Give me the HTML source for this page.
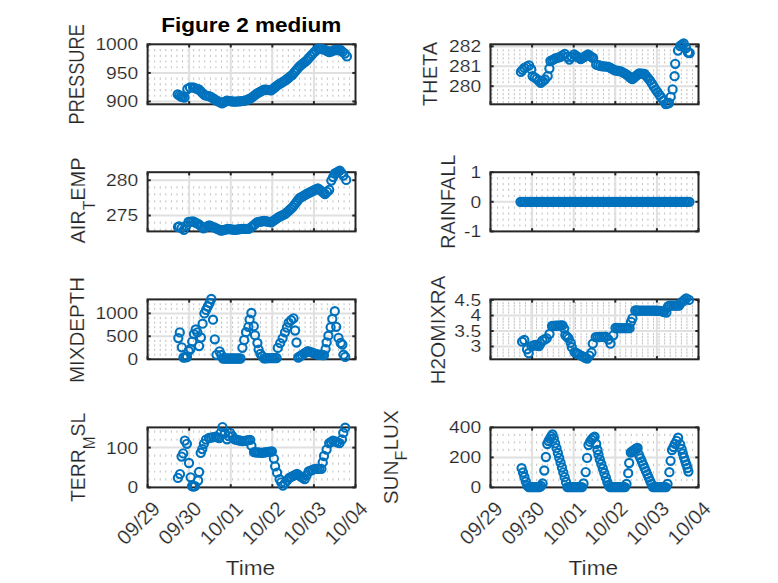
<!DOCTYPE html>
<html><head><meta charset="utf-8"><style>
html,body{margin:0;padding:0;background:#fff;width:778px;height:583px;overflow:hidden}
svg text{font-family:"Liberation Sans",sans-serif}
.tn text,text.tn{stroke:#fff;stroke-width:0.18px}
</style></head><body>
<svg width="778" height="583" viewBox="0 0 778 583" style="display:block">
<rect width="778" height="583" fill="#fff"/>
<rect x="147.6" y="44.3" width="207.90" height="60.00" fill="#fff"/>
<line x1="148.60" y1="95.74" x2="354.5" y2="95.74" stroke="#c2c2c2" stroke-width="2.2" stroke-dasharray="1 4.57"/>
<line x1="148.60" y1="90.04" x2="354.5" y2="90.04" stroke="#c2c2c2" stroke-width="2.2" stroke-dasharray="1 4.57"/>
<line x1="148.60" y1="84.34" x2="354.5" y2="84.34" stroke="#c2c2c2" stroke-width="2.2" stroke-dasharray="1 4.57"/>
<line x1="148.60" y1="78.63" x2="354.5" y2="78.63" stroke="#c2c2c2" stroke-width="2.2" stroke-dasharray="1 4.57"/>
<line x1="148.60" y1="67.23" x2="354.5" y2="67.23" stroke="#c2c2c2" stroke-width="2.2" stroke-dasharray="1 4.57"/>
<line x1="148.60" y1="61.52" x2="354.5" y2="61.52" stroke="#c2c2c2" stroke-width="2.2" stroke-dasharray="1 4.57"/>
<line x1="148.60" y1="55.82" x2="354.5" y2="55.82" stroke="#c2c2c2" stroke-width="2.2" stroke-dasharray="1 4.57"/>
<line x1="148.60" y1="50.12" x2="354.5" y2="50.12" stroke="#c2c2c2" stroke-width="2.2" stroke-dasharray="1 4.57"/>
<line x1="189.18" y1="44.3" x2="189.18" y2="104.3" stroke="#e0e0e0" stroke-width="2"/>
<line x1="230.76" y1="44.3" x2="230.76" y2="104.3" stroke="#e0e0e0" stroke-width="2"/>
<line x1="272.34" y1="44.3" x2="272.34" y2="104.3" stroke="#e0e0e0" stroke-width="2"/>
<line x1="313.92" y1="44.3" x2="313.92" y2="104.3" stroke="#e0e0e0" stroke-width="2"/>
<line x1="147.6" y1="101.45" x2="355.5" y2="101.45" stroke="#e0e0e0" stroke-width="2"/>
<line x1="147.6" y1="72.93" x2="355.5" y2="72.93" stroke="#e0e0e0" stroke-width="2"/>
<rect x="147.6" y="44.3" width="207.90" height="60.00" fill="none" stroke="#262626" stroke-width="2"/>
<line x1="147.60" y1="104.3" x2="147.60" y2="101.1" stroke="#262626" stroke-width="2"/>
<line x1="147.60" y1="44.3" x2="147.60" y2="47.5" stroke="#262626" stroke-width="2"/>
<line x1="189.18" y1="104.3" x2="189.18" y2="101.1" stroke="#262626" stroke-width="2"/>
<line x1="189.18" y1="44.3" x2="189.18" y2="47.5" stroke="#262626" stroke-width="2"/>
<line x1="230.76" y1="104.3" x2="230.76" y2="101.1" stroke="#262626" stroke-width="2"/>
<line x1="230.76" y1="44.3" x2="230.76" y2="47.5" stroke="#262626" stroke-width="2"/>
<line x1="272.34" y1="104.3" x2="272.34" y2="101.1" stroke="#262626" stroke-width="2"/>
<line x1="272.34" y1="44.3" x2="272.34" y2="47.5" stroke="#262626" stroke-width="2"/>
<line x1="313.92" y1="104.3" x2="313.92" y2="101.1" stroke="#262626" stroke-width="2"/>
<line x1="313.92" y1="44.3" x2="313.92" y2="47.5" stroke="#262626" stroke-width="2"/>
<line x1="355.50" y1="104.3" x2="355.50" y2="101.1" stroke="#262626" stroke-width="2"/>
<line x1="355.50" y1="44.3" x2="355.50" y2="47.5" stroke="#262626" stroke-width="2"/>
<line x1="147.6" y1="101.45" x2="150.79999999999998" y2="101.45" stroke="#262626" stroke-width="2"/>
<line x1="355.5" y1="101.45" x2="352.3" y2="101.45" stroke="#262626" stroke-width="2"/>
<line x1="147.6" y1="72.93" x2="150.79999999999998" y2="72.93" stroke="#262626" stroke-width="2"/>
<line x1="355.5" y1="72.93" x2="352.3" y2="72.93" stroke="#262626" stroke-width="2"/>
<line x1="147.6" y1="44.41" x2="150.79999999999998" y2="44.41" stroke="#262626" stroke-width="2"/>
<line x1="355.5" y1="44.41" x2="352.3" y2="44.41" stroke="#262626" stroke-width="2"/>
<g fill="none" stroke="#0072BD" stroke-width="2.1"><circle cx="177.70" cy="94.30" r="4.1"/><circle cx="179.35" cy="95.40" r="4.1"/><circle cx="181.00" cy="96.50" r="4.1"/><circle cx="182.75" cy="97.00" r="4.1"/><circle cx="184.50" cy="97.50" r="4.1"/><circle cx="187.40" cy="89.00" r="4.1"/><circle cx="190.00" cy="87.50" r="4.1"/><circle cx="193.10" cy="87.40" r="4.1"/><circle cx="195.03" cy="88.10" r="4.1"/><circle cx="196.97" cy="88.80" r="4.1"/><circle cx="198.90" cy="89.50" r="4.1"/><circle cx="200.83" cy="91.40" r="4.1"/><circle cx="202.77" cy="93.30" r="4.1"/><circle cx="204.70" cy="95.20" r="4.1"/><circle cx="206.63" cy="95.67" r="4.1"/><circle cx="208.57" cy="96.13" r="4.1"/><circle cx="210.50" cy="96.60" r="4.1"/><circle cx="212.43" cy="97.90" r="4.1"/><circle cx="214.37" cy="99.20" r="4.1"/><circle cx="216.30" cy="100.50" r="4.1"/><circle cx="218.23" cy="101.43" r="4.1"/><circle cx="220.17" cy="102.37" r="4.1"/><circle cx="222.10" cy="103.30" r="4.1"/><circle cx="224.40" cy="102.00" r="4.1"/><circle cx="226.70" cy="100.70" r="4.1"/><circle cx="228.42" cy="100.92" r="4.1"/><circle cx="230.15" cy="101.15" r="4.1"/><circle cx="231.88" cy="101.38" r="4.1"/><circle cx="233.60" cy="101.60" r="4.1"/><circle cx="235.53" cy="101.53" r="4.1"/><circle cx="237.47" cy="101.47" r="4.1"/><circle cx="239.40" cy="101.40" r="4.1"/><circle cx="241.33" cy="101.17" r="4.1"/><circle cx="243.27" cy="100.93" r="4.1"/><circle cx="245.20" cy="100.70" r="4.1"/><circle cx="247.13" cy="99.83" r="4.1"/><circle cx="249.07" cy="98.97" r="4.1"/><circle cx="251.00" cy="98.10" r="4.1"/><circle cx="252.93" cy="96.63" r="4.1"/><circle cx="254.87" cy="95.17" r="4.1"/><circle cx="256.80" cy="93.70" r="4.1"/><circle cx="258.62" cy="92.67" r="4.1"/><circle cx="260.45" cy="91.65" r="4.1"/><circle cx="262.28" cy="90.62" r="4.1"/><circle cx="264.10" cy="89.60" r="4.1"/><circle cx="265.88" cy="89.77" r="4.1"/><circle cx="267.65" cy="89.95" r="4.1"/><circle cx="269.43" cy="90.12" r="4.1"/><circle cx="271.20" cy="90.30" r="4.1"/><circle cx="272.98" cy="88.90" r="4.1"/><circle cx="274.75" cy="87.50" r="4.1"/><circle cx="276.52" cy="86.10" r="4.1"/><circle cx="278.30" cy="84.70" r="4.1"/><circle cx="280.07" cy="83.62" r="4.1"/><circle cx="281.85" cy="82.55" r="4.1"/><circle cx="283.62" cy="81.48" r="4.1"/><circle cx="285.40" cy="80.40" r="4.1"/><circle cx="287.15" cy="79.00" r="4.1"/><circle cx="288.90" cy="77.60" r="4.1"/><circle cx="290.65" cy="76.20" r="4.1"/><circle cx="292.40" cy="74.80" r="4.1"/><circle cx="294.17" cy="72.67" r="4.1"/><circle cx="295.95" cy="70.55" r="4.1"/><circle cx="297.73" cy="68.42" r="4.1"/><circle cx="299.50" cy="66.30" r="4.1"/><circle cx="301.27" cy="64.88" r="4.1"/><circle cx="303.05" cy="63.45" r="4.1"/><circle cx="304.83" cy="62.02" r="4.1"/><circle cx="306.60" cy="60.60" r="4.1"/><circle cx="308.47" cy="58.50" r="4.1"/><circle cx="310.33" cy="56.40" r="4.1"/><circle cx="312.20" cy="54.30" r="4.1"/><circle cx="314.10" cy="52.40" r="4.1"/><circle cx="316.00" cy="50.50" r="4.1"/><circle cx="317.90" cy="48.60" r="4.1"/><circle cx="319.77" cy="48.83" r="4.1"/><circle cx="321.63" cy="49.07" r="4.1"/><circle cx="323.50" cy="49.30" r="4.1"/><circle cx="325.40" cy="50.23" r="4.1"/><circle cx="327.30" cy="51.17" r="4.1"/><circle cx="329.20" cy="52.10" r="4.1"/><circle cx="331.10" cy="51.40" r="4.1"/><circle cx="333.00" cy="50.70" r="4.1"/><circle cx="334.90" cy="50.00" r="4.1"/><circle cx="336.77" cy="50.00" r="4.1"/><circle cx="338.63" cy="50.00" r="4.1"/><circle cx="340.50" cy="50.00" r="4.1"/><circle cx="342.65" cy="51.80" r="4.1"/><circle cx="344.80" cy="53.60" r="4.1"/><circle cx="346.90" cy="56.40" r="4.1"/></g>
<text transform="translate(138.20,101.45) scale(1.1,0.96)" y="6.2" text-anchor="end" font-size="17.5" fill="#262626" class="tn">900</text>
<text transform="translate(138.20,72.93) scale(1.1,0.96)" y="6.2" text-anchor="end" font-size="17.5" fill="#262626" class="tn">950</text>
<text transform="translate(138.20,44.41) scale(1.1,0.96)" y="6.2" text-anchor="end" font-size="17.5" fill="#262626" class="tn">1000</text>
<g class="tn" fill="#262626" transform="translate(76.70,73.85) scale(1.0429,0.8856) translate(-293.00,-299.50)"><text transform="translate(300,300) rotate(-90)" text-anchor="middle" font-size="20.6">PRESSURE</text></g>
<rect x="490.5" y="44.3" width="208.00" height="60.00" fill="#fff"/>
<line x1="491.50" y1="102.11" x2="697.5" y2="102.11" stroke="#c2c2c2" stroke-width="2.2" stroke-dasharray="1 4.57"/>
<line x1="491.50" y1="98.13" x2="697.5" y2="98.13" stroke="#c2c2c2" stroke-width="2.2" stroke-dasharray="1 4.57"/>
<line x1="491.50" y1="94.15" x2="697.5" y2="94.15" stroke="#c2c2c2" stroke-width="2.2" stroke-dasharray="1 4.57"/>
<line x1="491.50" y1="90.17" x2="697.5" y2="90.17" stroke="#c2c2c2" stroke-width="2.2" stroke-dasharray="1 4.57"/>
<line x1="491.50" y1="82.21" x2="697.5" y2="82.21" stroke="#c2c2c2" stroke-width="2.2" stroke-dasharray="1 4.57"/>
<line x1="491.50" y1="78.23" x2="697.5" y2="78.23" stroke="#c2c2c2" stroke-width="2.2" stroke-dasharray="1 4.57"/>
<line x1="491.50" y1="74.25" x2="697.5" y2="74.25" stroke="#c2c2c2" stroke-width="2.2" stroke-dasharray="1 4.57"/>
<line x1="491.50" y1="70.27" x2="697.5" y2="70.27" stroke="#c2c2c2" stroke-width="2.2" stroke-dasharray="1 4.57"/>
<line x1="491.50" y1="62.31" x2="697.5" y2="62.31" stroke="#c2c2c2" stroke-width="2.2" stroke-dasharray="1 4.57"/>
<line x1="491.50" y1="58.33" x2="697.5" y2="58.33" stroke="#c2c2c2" stroke-width="2.2" stroke-dasharray="1 4.57"/>
<line x1="491.50" y1="54.35" x2="697.5" y2="54.35" stroke="#c2c2c2" stroke-width="2.2" stroke-dasharray="1 4.57"/>
<line x1="491.50" y1="50.37" x2="697.5" y2="50.37" stroke="#c2c2c2" stroke-width="2.2" stroke-dasharray="1 4.57"/>
<line x1="532.10" y1="44.3" x2="532.10" y2="104.3" stroke="#e0e0e0" stroke-width="2"/>
<line x1="573.70" y1="44.3" x2="573.70" y2="104.3" stroke="#e0e0e0" stroke-width="2"/>
<line x1="615.30" y1="44.3" x2="615.30" y2="104.3" stroke="#e0e0e0" stroke-width="2"/>
<line x1="656.90" y1="44.3" x2="656.90" y2="104.3" stroke="#e0e0e0" stroke-width="2"/>
<line x1="490.5" y1="86.19" x2="698.5" y2="86.19" stroke="#e0e0e0" stroke-width="2"/>
<line x1="490.5" y1="66.29" x2="698.5" y2="66.29" stroke="#e0e0e0" stroke-width="2"/>
<line x1="490.5" y1="46.39" x2="698.5" y2="46.39" stroke="#e0e0e0" stroke-width="2"/>
<rect x="490.5" y="44.3" width="208.00" height="60.00" fill="none" stroke="#262626" stroke-width="2"/>
<line x1="490.50" y1="104.3" x2="490.50" y2="101.1" stroke="#262626" stroke-width="2"/>
<line x1="490.50" y1="44.3" x2="490.50" y2="47.5" stroke="#262626" stroke-width="2"/>
<line x1="532.10" y1="104.3" x2="532.10" y2="101.1" stroke="#262626" stroke-width="2"/>
<line x1="532.10" y1="44.3" x2="532.10" y2="47.5" stroke="#262626" stroke-width="2"/>
<line x1="573.70" y1="104.3" x2="573.70" y2="101.1" stroke="#262626" stroke-width="2"/>
<line x1="573.70" y1="44.3" x2="573.70" y2="47.5" stroke="#262626" stroke-width="2"/>
<line x1="615.30" y1="104.3" x2="615.30" y2="101.1" stroke="#262626" stroke-width="2"/>
<line x1="615.30" y1="44.3" x2="615.30" y2="47.5" stroke="#262626" stroke-width="2"/>
<line x1="656.90" y1="104.3" x2="656.90" y2="101.1" stroke="#262626" stroke-width="2"/>
<line x1="656.90" y1="44.3" x2="656.90" y2="47.5" stroke="#262626" stroke-width="2"/>
<line x1="698.50" y1="104.3" x2="698.50" y2="101.1" stroke="#262626" stroke-width="2"/>
<line x1="698.50" y1="44.3" x2="698.50" y2="47.5" stroke="#262626" stroke-width="2"/>
<line x1="490.5" y1="86.19" x2="493.7" y2="86.19" stroke="#262626" stroke-width="2"/>
<line x1="698.5" y1="86.19" x2="695.3" y2="86.19" stroke="#262626" stroke-width="2"/>
<line x1="490.5" y1="66.29" x2="493.7" y2="66.29" stroke="#262626" stroke-width="2"/>
<line x1="698.5" y1="66.29" x2="695.3" y2="66.29" stroke="#262626" stroke-width="2"/>
<line x1="490.5" y1="46.39" x2="493.7" y2="46.39" stroke="#262626" stroke-width="2"/>
<line x1="698.5" y1="46.39" x2="695.3" y2="46.39" stroke="#262626" stroke-width="2"/>
<g fill="none" stroke="#0072BD" stroke-width="2.1"><circle cx="520.90" cy="71.90" r="4.1"/><circle cx="522.60" cy="69.85" r="4.1"/><circle cx="524.30" cy="67.80" r="4.1"/><circle cx="526.70" cy="66.60" r="4.1"/><circle cx="529.10" cy="65.40" r="4.1"/><circle cx="531.20" cy="69.20" r="4.1"/><circle cx="532.60" cy="76.10" r="4.1"/><circle cx="534.65" cy="77.45" r="4.1"/><circle cx="536.70" cy="78.80" r="4.1"/><circle cx="538.75" cy="80.85" r="4.1"/><circle cx="540.80" cy="82.90" r="4.1"/><circle cx="542.85" cy="81.20" r="4.1"/><circle cx="544.90" cy="79.50" r="4.1"/><circle cx="547.70" cy="76.10" r="4.1"/><circle cx="549.40" cy="68.50" r="4.1"/><circle cx="550.40" cy="61.00" r="4.1"/><circle cx="552.23" cy="60.07" r="4.1"/><circle cx="554.07" cy="59.13" r="4.1"/><circle cx="555.90" cy="58.20" r="4.1"/><circle cx="558.00" cy="57.60" r="4.1"/><circle cx="560.10" cy="57.00" r="4.1"/><circle cx="562.45" cy="55.45" r="4.1"/><circle cx="564.80" cy="53.90" r="4.1"/><circle cx="567.10" cy="56.75" r="4.1"/><circle cx="569.40" cy="59.60" r="4.1"/><circle cx="571.75" cy="57.00" r="4.1"/><circle cx="574.10" cy="54.40" r="4.1"/><circle cx="575.75" cy="55.58" r="4.1"/><circle cx="577.40" cy="56.75" r="4.1"/><circle cx="579.05" cy="57.92" r="4.1"/><circle cx="580.70" cy="59.10" r="4.1"/><circle cx="582.53" cy="57.92" r="4.1"/><circle cx="584.35" cy="56.75" r="4.1"/><circle cx="586.17" cy="55.58" r="4.1"/><circle cx="588.00" cy="54.40" r="4.1"/><circle cx="589.70" cy="55.60" r="4.1"/><circle cx="591.40" cy="56.80" r="4.1"/><circle cx="593.10" cy="58.00" r="4.1"/><circle cx="596.20" cy="64.70" r="4.1"/><circle cx="598.27" cy="65.23" r="4.1"/><circle cx="600.33" cy="65.77" r="4.1"/><circle cx="602.40" cy="66.30" r="4.1"/><circle cx="604.47" cy="66.47" r="4.1"/><circle cx="606.53" cy="66.63" r="4.1"/><circle cx="608.60" cy="66.80" r="4.1"/><circle cx="610.63" cy="68.00" r="4.1"/><circle cx="612.67" cy="69.20" r="4.1"/><circle cx="614.70" cy="70.40" r="4.1"/><circle cx="616.77" cy="70.70" r="4.1"/><circle cx="618.83" cy="71.00" r="4.1"/><circle cx="620.90" cy="71.30" r="4.1"/><circle cx="623.25" cy="72.55" r="4.1"/><circle cx="625.60" cy="73.80" r="4.1"/><circle cx="627.27" cy="75.15" r="4.1"/><circle cx="628.95" cy="76.50" r="4.1"/><circle cx="630.62" cy="77.85" r="4.1"/><circle cx="632.30" cy="79.20" r="4.1"/><circle cx="633.97" cy="77.72" r="4.1"/><circle cx="635.65" cy="76.25" r="4.1"/><circle cx="637.33" cy="74.78" r="4.1"/><circle cx="639.00" cy="73.30" r="4.1"/><circle cx="640.83" cy="73.53" r="4.1"/><circle cx="642.67" cy="73.77" r="4.1"/><circle cx="644.50" cy="74.00" r="4.1"/><circle cx="646.37" cy="76.23" r="4.1"/><circle cx="648.23" cy="78.47" r="4.1"/><circle cx="650.10" cy="80.70" r="4.1"/><circle cx="651.97" cy="83.67" r="4.1"/><circle cx="653.83" cy="86.63" r="4.1"/><circle cx="655.70" cy="89.60" r="4.1"/><circle cx="657.53" cy="92.20" r="4.1"/><circle cx="659.37" cy="94.80" r="4.1"/><circle cx="661.20" cy="97.40" r="4.1"/><circle cx="663.45" cy="100.75" r="4.1"/><circle cx="665.70" cy="104.10" r="4.1"/><circle cx="667.35" cy="103.55" r="4.1"/><circle cx="669.00" cy="103.00" r="4.1"/><circle cx="670.70" cy="96.80" r="4.1"/><circle cx="672.60" cy="89.40" r="4.1"/><circle cx="674.60" cy="76.20" r="4.1"/><circle cx="675.20" cy="63.80" r="4.1"/><circle cx="678.00" cy="50.60" r="4.1"/><circle cx="680.20" cy="46.00" r="4.1"/><circle cx="681.95" cy="44.75" r="4.1"/><circle cx="683.70" cy="43.50" r="4.1"/><circle cx="686.00" cy="48.00" r="4.1"/><circle cx="688.00" cy="52.50" r="4.1"/><circle cx="689.70" cy="53.00" r="4.1"/></g>
<text transform="translate(481.10,86.19) scale(1.1,0.96)" y="6.2" text-anchor="end" font-size="17.5" fill="#262626" class="tn">280</text>
<text transform="translate(481.10,66.29) scale(1.1,0.96)" y="6.2" text-anchor="end" font-size="17.5" fill="#262626" class="tn">281</text>
<text transform="translate(481.10,46.39) scale(1.1,0.96)" y="6.2" text-anchor="end" font-size="17.5" fill="#262626" class="tn">282</text>
<g class="tn" fill="#262626" transform="translate(430.55,73.95) scale(0.9786,0.9773) translate(-293.00,-300.00)"><text transform="translate(300,300) rotate(-90)" text-anchor="middle" font-size="20.6">THETA</text></g>
<rect x="147.6" y="172.2" width="207.90" height="59.20" fill="#fff"/>
<line x1="148.60" y1="229.64" x2="354.5" y2="229.64" stroke="#c2c2c2" stroke-width="2.2" stroke-dasharray="1 4.57"/>
<line x1="148.60" y1="222.58" x2="354.5" y2="222.58" stroke="#c2c2c2" stroke-width="2.2" stroke-dasharray="1 4.57"/>
<line x1="148.60" y1="208.47" x2="354.5" y2="208.47" stroke="#c2c2c2" stroke-width="2.2" stroke-dasharray="1 4.57"/>
<line x1="148.60" y1="201.41" x2="354.5" y2="201.41" stroke="#c2c2c2" stroke-width="2.2" stroke-dasharray="1 4.57"/>
<line x1="148.60" y1="194.36" x2="354.5" y2="194.36" stroke="#c2c2c2" stroke-width="2.2" stroke-dasharray="1 4.57"/>
<line x1="148.60" y1="187.30" x2="354.5" y2="187.30" stroke="#c2c2c2" stroke-width="2.2" stroke-dasharray="1 4.57"/>
<line x1="189.18" y1="172.2" x2="189.18" y2="231.4" stroke="#e0e0e0" stroke-width="2"/>
<line x1="230.76" y1="172.2" x2="230.76" y2="231.4" stroke="#e0e0e0" stroke-width="2"/>
<line x1="272.34" y1="172.2" x2="272.34" y2="231.4" stroke="#e0e0e0" stroke-width="2"/>
<line x1="313.92" y1="172.2" x2="313.92" y2="231.4" stroke="#e0e0e0" stroke-width="2"/>
<line x1="147.6" y1="215.52" x2="355.5" y2="215.52" stroke="#e0e0e0" stroke-width="2"/>
<line x1="147.6" y1="180.24" x2="355.5" y2="180.24" stroke="#e0e0e0" stroke-width="2"/>
<rect x="147.6" y="172.2" width="207.90" height="59.20" fill="none" stroke="#262626" stroke-width="2"/>
<line x1="147.60" y1="231.4" x2="147.60" y2="228.20000000000002" stroke="#262626" stroke-width="2"/>
<line x1="147.60" y1="172.2" x2="147.60" y2="175.39999999999998" stroke="#262626" stroke-width="2"/>
<line x1="189.18" y1="231.4" x2="189.18" y2="228.20000000000002" stroke="#262626" stroke-width="2"/>
<line x1="189.18" y1="172.2" x2="189.18" y2="175.39999999999998" stroke="#262626" stroke-width="2"/>
<line x1="230.76" y1="231.4" x2="230.76" y2="228.20000000000002" stroke="#262626" stroke-width="2"/>
<line x1="230.76" y1="172.2" x2="230.76" y2="175.39999999999998" stroke="#262626" stroke-width="2"/>
<line x1="272.34" y1="231.4" x2="272.34" y2="228.20000000000002" stroke="#262626" stroke-width="2"/>
<line x1="272.34" y1="172.2" x2="272.34" y2="175.39999999999998" stroke="#262626" stroke-width="2"/>
<line x1="313.92" y1="231.4" x2="313.92" y2="228.20000000000002" stroke="#262626" stroke-width="2"/>
<line x1="313.92" y1="172.2" x2="313.92" y2="175.39999999999998" stroke="#262626" stroke-width="2"/>
<line x1="355.50" y1="231.4" x2="355.50" y2="228.20000000000002" stroke="#262626" stroke-width="2"/>
<line x1="355.50" y1="172.2" x2="355.50" y2="175.39999999999998" stroke="#262626" stroke-width="2"/>
<line x1="147.6" y1="215.52" x2="150.79999999999998" y2="215.52" stroke="#262626" stroke-width="2"/>
<line x1="355.5" y1="215.52" x2="352.3" y2="215.52" stroke="#262626" stroke-width="2"/>
<line x1="147.6" y1="180.24" x2="150.79999999999998" y2="180.24" stroke="#262626" stroke-width="2"/>
<line x1="355.5" y1="180.24" x2="352.3" y2="180.24" stroke="#262626" stroke-width="2"/>
<g fill="none" stroke="#0072BD" stroke-width="2.1"><circle cx="178.00" cy="227.00" r="4.1"/><circle cx="179.30" cy="226.40" r="4.1"/><circle cx="181.60" cy="228.15" r="4.1"/><circle cx="183.90" cy="229.90" r="4.1"/><circle cx="186.20" cy="225.95" r="4.1"/><circle cx="188.50" cy="222.00" r="4.1"/><circle cx="190.80" cy="221.75" r="4.1"/><circle cx="193.10" cy="221.50" r="4.1"/><circle cx="195.03" cy="222.47" r="4.1"/><circle cx="196.97" cy="223.43" r="4.1"/><circle cx="198.90" cy="224.40" r="4.1"/><circle cx="201.20" cy="226.40" r="4.1"/><circle cx="203.50" cy="228.40" r="4.1"/><circle cx="205.43" cy="227.43" r="4.1"/><circle cx="207.37" cy="226.47" r="4.1"/><circle cx="209.30" cy="225.50" r="4.1"/><circle cx="211.23" cy="226.27" r="4.1"/><circle cx="213.17" cy="227.03" r="4.1"/><circle cx="215.10" cy="227.80" r="4.1"/><circle cx="217.03" cy="228.77" r="4.1"/><circle cx="218.97" cy="229.73" r="4.1"/><circle cx="220.90" cy="230.70" r="4.1"/><circle cx="222.62" cy="230.27" r="4.1"/><circle cx="224.35" cy="229.85" r="4.1"/><circle cx="226.08" cy="229.43" r="4.1"/><circle cx="227.80" cy="229.00" r="4.1"/><circle cx="229.55" cy="229.22" r="4.1"/><circle cx="231.30" cy="229.45" r="4.1"/><circle cx="233.05" cy="229.68" r="4.1"/><circle cx="234.80" cy="229.90" r="4.1"/><circle cx="236.53" cy="229.62" r="4.1"/><circle cx="238.25" cy="229.35" r="4.1"/><circle cx="239.97" cy="229.08" r="4.1"/><circle cx="241.70" cy="228.80" r="4.1"/><circle cx="243.45" cy="228.80" r="4.1"/><circle cx="245.20" cy="228.80" r="4.1"/><circle cx="246.95" cy="228.80" r="4.1"/><circle cx="248.70" cy="228.80" r="4.1"/><circle cx="251.40" cy="227.20" r="4.1"/><circle cx="253.30" cy="225.57" r="4.1"/><circle cx="255.20" cy="223.93" r="4.1"/><circle cx="257.10" cy="222.30" r="4.1"/><circle cx="258.85" cy="221.95" r="4.1"/><circle cx="260.60" cy="221.60" r="4.1"/><circle cx="262.35" cy="221.25" r="4.1"/><circle cx="264.10" cy="220.90" r="4.1"/><circle cx="265.88" cy="221.25" r="4.1"/><circle cx="267.65" cy="221.60" r="4.1"/><circle cx="269.43" cy="221.95" r="4.1"/><circle cx="271.20" cy="222.30" r="4.1"/><circle cx="272.98" cy="221.05" r="4.1"/><circle cx="274.75" cy="219.80" r="4.1"/><circle cx="276.52" cy="218.55" r="4.1"/><circle cx="278.30" cy="217.30" r="4.1"/><circle cx="280.07" cy="216.43" r="4.1"/><circle cx="281.85" cy="215.55" r="4.1"/><circle cx="283.62" cy="214.68" r="4.1"/><circle cx="285.40" cy="213.80" r="4.1"/><circle cx="287.15" cy="212.20" r="4.1"/><circle cx="288.90" cy="210.60" r="4.1"/><circle cx="290.65" cy="209.00" r="4.1"/><circle cx="292.40" cy="207.40" r="4.1"/><circle cx="294.17" cy="205.10" r="4.1"/><circle cx="295.95" cy="202.80" r="4.1"/><circle cx="297.73" cy="200.50" r="4.1"/><circle cx="299.50" cy="198.20" r="4.1"/><circle cx="301.27" cy="197.15" r="4.1"/><circle cx="303.05" cy="196.10" r="4.1"/><circle cx="304.83" cy="195.05" r="4.1"/><circle cx="306.60" cy="194.00" r="4.1"/><circle cx="308.35" cy="193.12" r="4.1"/><circle cx="310.10" cy="192.25" r="4.1"/><circle cx="311.85" cy="191.38" r="4.1"/><circle cx="313.60" cy="190.50" r="4.1"/><circle cx="315.75" cy="189.40" r="4.1"/><circle cx="317.90" cy="188.30" r="4.1"/><circle cx="319.67" cy="189.73" r="4.1"/><circle cx="321.45" cy="191.15" r="4.1"/><circle cx="323.23" cy="192.57" r="4.1"/><circle cx="325.00" cy="194.00" r="4.1"/><circle cx="327.10" cy="191.90" r="4.1"/><circle cx="329.20" cy="189.80" r="4.1"/><circle cx="331.30" cy="180.60" r="4.1"/><circle cx="333.10" cy="177.05" r="4.1"/><circle cx="334.90" cy="173.50" r="4.1"/><circle cx="336.53" cy="172.57" r="4.1"/><circle cx="338.17" cy="171.63" r="4.1"/><circle cx="339.80" cy="170.70" r="4.1"/><circle cx="341.60" cy="173.15" r="4.1"/><circle cx="343.40" cy="175.60" r="4.1"/><circle cx="346.20" cy="179.90" r="4.1"/></g>
<text transform="translate(138.20,215.52) scale(1.1,0.96)" y="6.2" text-anchor="end" font-size="17.5" fill="#262626" class="tn">275</text>
<text transform="translate(138.20,180.24) scale(1.1,0.96)" y="6.2" text-anchor="end" font-size="17.5" fill="#262626" class="tn">280</text>
<g class="tn" fill="#262626" transform="translate(83.40,200.55) scale(1.0000,0.9670) translate(-298.00,-300.00)"><text transform="translate(300,300) rotate(-90)" text-anchor="middle" font-size="20.6">AIR<tspan font-size="16.3" dy="9.9">T</tspan><tspan dy="-9.9">EMP</tspan></text></g>
<rect x="490.5" y="172.2" width="208.00" height="59.20" fill="#fff"/>
<line x1="491.50" y1="225.48" x2="697.5" y2="225.48" stroke="#c2c2c2" stroke-width="2.2" stroke-dasharray="1 4.57"/>
<line x1="491.50" y1="219.56" x2="697.5" y2="219.56" stroke="#c2c2c2" stroke-width="2.2" stroke-dasharray="1 4.57"/>
<line x1="491.50" y1="213.64" x2="697.5" y2="213.64" stroke="#c2c2c2" stroke-width="2.2" stroke-dasharray="1 4.57"/>
<line x1="491.50" y1="207.72" x2="697.5" y2="207.72" stroke="#c2c2c2" stroke-width="2.2" stroke-dasharray="1 4.57"/>
<line x1="491.50" y1="195.88" x2="697.5" y2="195.88" stroke="#c2c2c2" stroke-width="2.2" stroke-dasharray="1 4.57"/>
<line x1="491.50" y1="189.96" x2="697.5" y2="189.96" stroke="#c2c2c2" stroke-width="2.2" stroke-dasharray="1 4.57"/>
<line x1="491.50" y1="184.04" x2="697.5" y2="184.04" stroke="#c2c2c2" stroke-width="2.2" stroke-dasharray="1 4.57"/>
<line x1="491.50" y1="178.12" x2="697.5" y2="178.12" stroke="#c2c2c2" stroke-width="2.2" stroke-dasharray="1 4.57"/>
<line x1="532.10" y1="172.2" x2="532.10" y2="231.4" stroke="#e0e0e0" stroke-width="2"/>
<line x1="573.70" y1="172.2" x2="573.70" y2="231.4" stroke="#e0e0e0" stroke-width="2"/>
<line x1="615.30" y1="172.2" x2="615.30" y2="231.4" stroke="#e0e0e0" stroke-width="2"/>
<line x1="656.90" y1="172.2" x2="656.90" y2="231.4" stroke="#e0e0e0" stroke-width="2"/>
<line x1="490.5" y1="201.80" x2="698.5" y2="201.80" stroke="#e0e0e0" stroke-width="2"/>
<rect x="490.5" y="172.2" width="208.00" height="59.20" fill="none" stroke="#262626" stroke-width="2"/>
<line x1="490.50" y1="231.4" x2="490.50" y2="228.20000000000002" stroke="#262626" stroke-width="2"/>
<line x1="490.50" y1="172.2" x2="490.50" y2="175.39999999999998" stroke="#262626" stroke-width="2"/>
<line x1="532.10" y1="231.4" x2="532.10" y2="228.20000000000002" stroke="#262626" stroke-width="2"/>
<line x1="532.10" y1="172.2" x2="532.10" y2="175.39999999999998" stroke="#262626" stroke-width="2"/>
<line x1="573.70" y1="231.4" x2="573.70" y2="228.20000000000002" stroke="#262626" stroke-width="2"/>
<line x1="573.70" y1="172.2" x2="573.70" y2="175.39999999999998" stroke="#262626" stroke-width="2"/>
<line x1="615.30" y1="231.4" x2="615.30" y2="228.20000000000002" stroke="#262626" stroke-width="2"/>
<line x1="615.30" y1="172.2" x2="615.30" y2="175.39999999999998" stroke="#262626" stroke-width="2"/>
<line x1="656.90" y1="231.4" x2="656.90" y2="228.20000000000002" stroke="#262626" stroke-width="2"/>
<line x1="656.90" y1="172.2" x2="656.90" y2="175.39999999999998" stroke="#262626" stroke-width="2"/>
<line x1="698.50" y1="231.4" x2="698.50" y2="228.20000000000002" stroke="#262626" stroke-width="2"/>
<line x1="698.50" y1="172.2" x2="698.50" y2="175.39999999999998" stroke="#262626" stroke-width="2"/>
<line x1="490.5" y1="231.40" x2="493.7" y2="231.40" stroke="#262626" stroke-width="2"/>
<line x1="698.5" y1="231.40" x2="695.3" y2="231.40" stroke="#262626" stroke-width="2"/>
<line x1="490.5" y1="201.80" x2="493.7" y2="201.80" stroke="#262626" stroke-width="2"/>
<line x1="698.5" y1="201.80" x2="695.3" y2="201.80" stroke="#262626" stroke-width="2"/>
<line x1="490.5" y1="172.20" x2="493.7" y2="172.20" stroke="#262626" stroke-width="2"/>
<line x1="698.5" y1="172.20" x2="695.3" y2="172.20" stroke="#262626" stroke-width="2"/>
<g fill="none" stroke="#0072BD" stroke-width="2.1"><circle cx="520.50" cy="201.80" r="4.1"/><circle cx="522.24" cy="201.80" r="4.1"/><circle cx="523.98" cy="201.80" r="4.1"/><circle cx="525.73" cy="201.80" r="4.1"/><circle cx="527.47" cy="201.80" r="4.1"/><circle cx="529.21" cy="201.80" r="4.1"/><circle cx="530.95" cy="201.80" r="4.1"/><circle cx="532.70" cy="201.80" r="4.1"/><circle cx="534.44" cy="201.80" r="4.1"/><circle cx="536.18" cy="201.80" r="4.1"/><circle cx="537.92" cy="201.80" r="4.1"/><circle cx="539.66" cy="201.80" r="4.1"/><circle cx="541.41" cy="201.80" r="4.1"/><circle cx="543.15" cy="201.80" r="4.1"/><circle cx="544.89" cy="201.80" r="4.1"/><circle cx="546.63" cy="201.80" r="4.1"/><circle cx="548.38" cy="201.80" r="4.1"/><circle cx="550.12" cy="201.80" r="4.1"/><circle cx="551.86" cy="201.80" r="4.1"/><circle cx="553.60" cy="201.80" r="4.1"/><circle cx="555.35" cy="201.80" r="4.1"/><circle cx="557.09" cy="201.80" r="4.1"/><circle cx="558.83" cy="201.80" r="4.1"/><circle cx="560.57" cy="201.80" r="4.1"/><circle cx="562.31" cy="201.80" r="4.1"/><circle cx="564.06" cy="201.80" r="4.1"/><circle cx="565.80" cy="201.80" r="4.1"/><circle cx="567.54" cy="201.80" r="4.1"/><circle cx="569.28" cy="201.80" r="4.1"/><circle cx="571.03" cy="201.80" r="4.1"/><circle cx="572.77" cy="201.80" r="4.1"/><circle cx="574.51" cy="201.80" r="4.1"/><circle cx="576.25" cy="201.80" r="4.1"/><circle cx="577.99" cy="201.80" r="4.1"/><circle cx="579.74" cy="201.80" r="4.1"/><circle cx="581.48" cy="201.80" r="4.1"/><circle cx="583.22" cy="201.80" r="4.1"/><circle cx="584.96" cy="201.80" r="4.1"/><circle cx="586.71" cy="201.80" r="4.1"/><circle cx="588.45" cy="201.80" r="4.1"/><circle cx="590.19" cy="201.80" r="4.1"/><circle cx="591.93" cy="201.80" r="4.1"/><circle cx="593.68" cy="201.80" r="4.1"/><circle cx="595.42" cy="201.80" r="4.1"/><circle cx="597.16" cy="201.80" r="4.1"/><circle cx="598.90" cy="201.80" r="4.1"/><circle cx="600.64" cy="201.80" r="4.1"/><circle cx="602.39" cy="201.80" r="4.1"/><circle cx="604.13" cy="201.80" r="4.1"/><circle cx="605.87" cy="201.80" r="4.1"/><circle cx="607.61" cy="201.80" r="4.1"/><circle cx="609.36" cy="201.80" r="4.1"/><circle cx="611.10" cy="201.80" r="4.1"/><circle cx="612.84" cy="201.80" r="4.1"/><circle cx="614.58" cy="201.80" r="4.1"/><circle cx="616.32" cy="201.80" r="4.1"/><circle cx="618.07" cy="201.80" r="4.1"/><circle cx="619.81" cy="201.80" r="4.1"/><circle cx="621.55" cy="201.80" r="4.1"/><circle cx="623.29" cy="201.80" r="4.1"/><circle cx="625.04" cy="201.80" r="4.1"/><circle cx="626.78" cy="201.80" r="4.1"/><circle cx="628.52" cy="201.80" r="4.1"/><circle cx="630.26" cy="201.80" r="4.1"/><circle cx="632.01" cy="201.80" r="4.1"/><circle cx="633.75" cy="201.80" r="4.1"/><circle cx="635.49" cy="201.80" r="4.1"/><circle cx="637.23" cy="201.80" r="4.1"/><circle cx="638.97" cy="201.80" r="4.1"/><circle cx="640.72" cy="201.80" r="4.1"/><circle cx="642.46" cy="201.80" r="4.1"/><circle cx="644.20" cy="201.80" r="4.1"/><circle cx="645.94" cy="201.80" r="4.1"/><circle cx="647.69" cy="201.80" r="4.1"/><circle cx="649.43" cy="201.80" r="4.1"/><circle cx="651.17" cy="201.80" r="4.1"/><circle cx="652.91" cy="201.80" r="4.1"/><circle cx="654.65" cy="201.80" r="4.1"/><circle cx="656.40" cy="201.80" r="4.1"/><circle cx="658.14" cy="201.80" r="4.1"/><circle cx="659.88" cy="201.80" r="4.1"/><circle cx="661.62" cy="201.80" r="4.1"/><circle cx="663.37" cy="201.80" r="4.1"/><circle cx="665.11" cy="201.80" r="4.1"/><circle cx="666.85" cy="201.80" r="4.1"/><circle cx="668.59" cy="201.80" r="4.1"/><circle cx="670.34" cy="201.80" r="4.1"/><circle cx="672.08" cy="201.80" r="4.1"/><circle cx="673.82" cy="201.80" r="4.1"/><circle cx="675.56" cy="201.80" r="4.1"/><circle cx="677.30" cy="201.80" r="4.1"/><circle cx="679.05" cy="201.80" r="4.1"/><circle cx="680.79" cy="201.80" r="4.1"/><circle cx="682.53" cy="201.80" r="4.1"/><circle cx="684.27" cy="201.80" r="4.1"/><circle cx="686.02" cy="201.80" r="4.1"/><circle cx="687.76" cy="201.80" r="4.1"/><circle cx="689.50" cy="201.80" r="4.1"/></g>
<text transform="translate(481.10,231.40) scale(1.1,0.96)" y="6.2" text-anchor="end" font-size="17.5" fill="#262626" class="tn">-1</text>
<text transform="translate(481.10,201.80) scale(1.1,0.96)" y="6.2" text-anchor="end" font-size="17.5" fill="#262626" class="tn">0</text>
<text transform="translate(481.10,172.20) scale(1.1,0.96)" y="6.2" text-anchor="end" font-size="17.5" fill="#262626" class="tn">1</text>
<g class="tn" fill="#262626" transform="translate(447.65,201.30) scale(1.0214,0.9705) translate(-293.00,-299.50)"><text transform="translate(300,300) rotate(-90)" text-anchor="middle" font-size="20.6">RAINFALL</text></g>
<rect x="147.6" y="299.4" width="207.90" height="59.90" fill="#fff"/>
<line x1="148.60" y1="354.54" x2="354.5" y2="354.54" stroke="#c2c2c2" stroke-width="2.2" stroke-dasharray="1 4.57"/>
<line x1="148.60" y1="349.97" x2="354.5" y2="349.97" stroke="#c2c2c2" stroke-width="2.2" stroke-dasharray="1 4.57"/>
<line x1="148.60" y1="345.40" x2="354.5" y2="345.40" stroke="#c2c2c2" stroke-width="2.2" stroke-dasharray="1 4.57"/>
<line x1="148.60" y1="340.83" x2="354.5" y2="340.83" stroke="#c2c2c2" stroke-width="2.2" stroke-dasharray="1 4.57"/>
<line x1="148.60" y1="331.68" x2="354.5" y2="331.68" stroke="#c2c2c2" stroke-width="2.2" stroke-dasharray="1 4.57"/>
<line x1="148.60" y1="327.11" x2="354.5" y2="327.11" stroke="#c2c2c2" stroke-width="2.2" stroke-dasharray="1 4.57"/>
<line x1="148.60" y1="322.54" x2="354.5" y2="322.54" stroke="#c2c2c2" stroke-width="2.2" stroke-dasharray="1 4.57"/>
<line x1="148.60" y1="317.96" x2="354.5" y2="317.96" stroke="#c2c2c2" stroke-width="2.2" stroke-dasharray="1 4.57"/>
<line x1="148.60" y1="308.82" x2="354.5" y2="308.82" stroke="#c2c2c2" stroke-width="2.2" stroke-dasharray="1 4.57"/>
<line x1="148.60" y1="304.25" x2="354.5" y2="304.25" stroke="#c2c2c2" stroke-width="2.2" stroke-dasharray="1 4.57"/>
<line x1="189.18" y1="299.4" x2="189.18" y2="359.3" stroke="#e0e0e0" stroke-width="2"/>
<line x1="230.76" y1="299.4" x2="230.76" y2="359.3" stroke="#e0e0e0" stroke-width="2"/>
<line x1="272.34" y1="299.4" x2="272.34" y2="359.3" stroke="#e0e0e0" stroke-width="2"/>
<line x1="313.92" y1="299.4" x2="313.92" y2="359.3" stroke="#e0e0e0" stroke-width="2"/>
<line x1="147.6" y1="336.25" x2="355.5" y2="336.25" stroke="#e0e0e0" stroke-width="2"/>
<line x1="147.6" y1="313.39" x2="355.5" y2="313.39" stroke="#e0e0e0" stroke-width="2"/>
<rect x="147.6" y="299.4" width="207.90" height="59.90" fill="none" stroke="#262626" stroke-width="2"/>
<line x1="147.60" y1="359.3" x2="147.60" y2="356.1" stroke="#262626" stroke-width="2"/>
<line x1="147.60" y1="299.4" x2="147.60" y2="302.59999999999997" stroke="#262626" stroke-width="2"/>
<line x1="189.18" y1="359.3" x2="189.18" y2="356.1" stroke="#262626" stroke-width="2"/>
<line x1="189.18" y1="299.4" x2="189.18" y2="302.59999999999997" stroke="#262626" stroke-width="2"/>
<line x1="230.76" y1="359.3" x2="230.76" y2="356.1" stroke="#262626" stroke-width="2"/>
<line x1="230.76" y1="299.4" x2="230.76" y2="302.59999999999997" stroke="#262626" stroke-width="2"/>
<line x1="272.34" y1="359.3" x2="272.34" y2="356.1" stroke="#262626" stroke-width="2"/>
<line x1="272.34" y1="299.4" x2="272.34" y2="302.59999999999997" stroke="#262626" stroke-width="2"/>
<line x1="313.92" y1="359.3" x2="313.92" y2="356.1" stroke="#262626" stroke-width="2"/>
<line x1="313.92" y1="299.4" x2="313.92" y2="302.59999999999997" stroke="#262626" stroke-width="2"/>
<line x1="355.50" y1="359.3" x2="355.50" y2="356.1" stroke="#262626" stroke-width="2"/>
<line x1="355.50" y1="299.4" x2="355.50" y2="302.59999999999997" stroke="#262626" stroke-width="2"/>
<line x1="147.6" y1="359.12" x2="150.79999999999998" y2="359.12" stroke="#262626" stroke-width="2"/>
<line x1="355.5" y1="359.12" x2="352.3" y2="359.12" stroke="#262626" stroke-width="2"/>
<line x1="147.6" y1="336.25" x2="150.79999999999998" y2="336.25" stroke="#262626" stroke-width="2"/>
<line x1="355.5" y1="336.25" x2="352.3" y2="336.25" stroke="#262626" stroke-width="2"/>
<line x1="147.6" y1="313.39" x2="150.79999999999998" y2="313.39" stroke="#262626" stroke-width="2"/>
<line x1="355.5" y1="313.39" x2="352.3" y2="313.39" stroke="#262626" stroke-width="2"/>
<g fill="none" stroke="#0072BD" stroke-width="2.1"><circle cx="178.30" cy="338.10" r="4.1"/><circle cx="179.80" cy="332.40" r="4.1"/><circle cx="181.80" cy="347.30" r="4.1"/><circle cx="183.50" cy="357.50" r="4.1"/><circle cx="185.25" cy="357.25" r="4.1"/><circle cx="187.00" cy="357.00" r="4.1"/><circle cx="188.70" cy="351.00" r="4.1"/><circle cx="190.50" cy="349.00" r="4.1"/><circle cx="192.20" cy="341.60" r="4.1"/><circle cx="193.90" cy="334.10" r="4.1"/><circle cx="195.70" cy="329.50" r="4.1"/><circle cx="197.40" cy="332.40" r="4.1"/><circle cx="199.10" cy="346.10" r="4.1"/><circle cx="200.90" cy="337.50" r="4.1"/><circle cx="202.60" cy="323.70" r="4.1"/><circle cx="204.40" cy="313.40" r="4.1"/><circle cx="206.10" cy="309.90" r="4.1"/><circle cx="207.80" cy="306.50" r="4.1"/><circle cx="209.60" cy="303.00" r="4.1"/><circle cx="211.30" cy="299.00" r="4.1"/><circle cx="213.00" cy="319.70" r="4.1"/><circle cx="214.80" cy="339.30" r="4.1"/><circle cx="216.50" cy="354.80" r="4.1"/><circle cx="219.60" cy="351.40" r="4.1"/><circle cx="221.30" cy="354.95" r="4.1"/><circle cx="223.00" cy="358.50" r="4.1"/><circle cx="224.75" cy="358.50" r="4.1"/><circle cx="226.50" cy="358.50" r="4.1"/><circle cx="228.25" cy="358.50" r="4.1"/><circle cx="230.00" cy="358.50" r="4.1"/><circle cx="231.75" cy="358.50" r="4.1"/><circle cx="233.50" cy="358.50" r="4.1"/><circle cx="235.25" cy="358.50" r="4.1"/><circle cx="237.00" cy="358.50" r="4.1"/><circle cx="238.75" cy="358.50" r="4.1"/><circle cx="240.50" cy="358.50" r="4.1"/><circle cx="242.40" cy="347.80" r="4.1"/><circle cx="244.20" cy="340.00" r="4.1"/><circle cx="246.00" cy="332.20" r="4.1"/><circle cx="248.40" cy="326.80" r="4.1"/><circle cx="249.60" cy="319.60" r="4.1"/><circle cx="251.40" cy="313.00" r="4.1"/><circle cx="253.80" cy="326.20" r="4.1"/><circle cx="255.00" cy="335.20" r="4.1"/><circle cx="257.40" cy="343.00" r="4.1"/><circle cx="258.60" cy="349.60" r="4.1"/><circle cx="260.40" cy="353.80" r="4.1"/><circle cx="262.20" cy="356.05" r="4.1"/><circle cx="264.00" cy="358.30" r="4.1"/><circle cx="265.80" cy="358.26" r="4.1"/><circle cx="267.60" cy="358.21" r="4.1"/><circle cx="269.40" cy="358.17" r="4.1"/><circle cx="271.20" cy="358.13" r="4.1"/><circle cx="273.00" cy="358.09" r="4.1"/><circle cx="274.80" cy="358.04" r="4.1"/><circle cx="276.60" cy="358.00" r="4.1"/><circle cx="277.80" cy="347.90" r="4.1"/><circle cx="280.20" cy="343.10" r="4.1"/><circle cx="282.60" cy="338.30" r="4.1"/><circle cx="285.00" cy="332.30" r="4.1"/><circle cx="286.90" cy="327.50" r="4.1"/><circle cx="288.70" cy="322.60" r="4.1"/><circle cx="291.10" cy="320.20" r="4.1"/><circle cx="293.50" cy="318.40" r="4.1"/><circle cx="295.10" cy="330.50" r="4.1"/><circle cx="296.50" cy="342.50" r="4.1"/><circle cx="298.20" cy="357.50" r="4.1"/><circle cx="300.10" cy="356.25" r="4.1"/><circle cx="302.00" cy="355.00" r="4.1"/><circle cx="303.93" cy="353.70" r="4.1"/><circle cx="305.87" cy="352.40" r="4.1"/><circle cx="307.80" cy="351.10" r="4.1"/><circle cx="309.72" cy="351.78" r="4.1"/><circle cx="311.64" cy="352.46" r="4.1"/><circle cx="313.56" cy="353.14" r="4.1"/><circle cx="315.48" cy="353.82" r="4.1"/><circle cx="317.40" cy="354.50" r="4.1"/><circle cx="319.05" cy="354.68" r="4.1"/><circle cx="320.70" cy="354.85" r="4.1"/><circle cx="322.35" cy="355.02" r="4.1"/><circle cx="324.00" cy="355.20" r="4.1"/><circle cx="325.60" cy="349.10" r="4.1"/><circle cx="326.70" cy="342.40" r="4.1"/><circle cx="328.40" cy="335.70" r="4.1"/><circle cx="330.60" cy="327.30" r="4.1"/><circle cx="332.30" cy="319.00" r="4.1"/><circle cx="334.80" cy="311.20" r="4.1"/><circle cx="336.20" cy="326.80" r="4.1"/><circle cx="338.50" cy="337.90" r="4.1"/><circle cx="340.70" cy="343.00" r="4.1"/><circle cx="342.40" cy="344.60" r="4.1"/><circle cx="343.50" cy="354.70" r="4.1"/><circle cx="345.20" cy="356.90" r="4.1"/></g>
<text transform="translate(138.20,359.12) scale(1.1,0.96)" y="6.2" text-anchor="end" font-size="17.5" fill="#262626" class="tn">0</text>
<text transform="translate(138.20,336.25) scale(1.1,0.96)" y="6.2" text-anchor="end" font-size="17.5" fill="#262626" class="tn">500</text>
<text transform="translate(138.20,313.39) scale(1.1,0.96)" y="6.2" text-anchor="end" font-size="17.5" fill="#262626" class="tn">1000</text>
<g class="tn" fill="#262626" transform="translate(77.30,330.00) scale(1.0143,0.9981) translate(-293.00,-300.00)"><text transform="translate(300,300) rotate(-90)" text-anchor="middle" font-size="20.6">MIXDEPTH</text></g>
<rect x="490.5" y="299.4" width="208.00" height="59.90" fill="#fff"/>
<line x1="491.50" y1="355.80" x2="697.5" y2="355.80" stroke="#c2c2c2" stroke-width="2.2" stroke-dasharray="1 4.57"/>
<line x1="491.50" y1="352.70" x2="697.5" y2="352.70" stroke="#c2c2c2" stroke-width="2.2" stroke-dasharray="1 4.57"/>
<line x1="491.50" y1="349.60" x2="697.5" y2="349.60" stroke="#c2c2c2" stroke-width="2.2" stroke-dasharray="1 4.57"/>
<line x1="491.50" y1="343.40" x2="697.5" y2="343.40" stroke="#c2c2c2" stroke-width="2.2" stroke-dasharray="1 4.57"/>
<line x1="491.50" y1="340.30" x2="697.5" y2="340.30" stroke="#c2c2c2" stroke-width="2.2" stroke-dasharray="1 4.57"/>
<line x1="491.50" y1="337.21" x2="697.5" y2="337.21" stroke="#c2c2c2" stroke-width="2.2" stroke-dasharray="1 4.57"/>
<line x1="491.50" y1="334.11" x2="697.5" y2="334.11" stroke="#c2c2c2" stroke-width="2.2" stroke-dasharray="1 4.57"/>
<line x1="491.50" y1="327.91" x2="697.5" y2="327.91" stroke="#c2c2c2" stroke-width="2.2" stroke-dasharray="1 4.57"/>
<line x1="491.50" y1="324.81" x2="697.5" y2="324.81" stroke="#c2c2c2" stroke-width="2.2" stroke-dasharray="1 4.57"/>
<line x1="491.50" y1="321.71" x2="697.5" y2="321.71" stroke="#c2c2c2" stroke-width="2.2" stroke-dasharray="1 4.57"/>
<line x1="491.50" y1="318.61" x2="697.5" y2="318.61" stroke="#c2c2c2" stroke-width="2.2" stroke-dasharray="1 4.57"/>
<line x1="491.50" y1="312.42" x2="697.5" y2="312.42" stroke="#c2c2c2" stroke-width="2.2" stroke-dasharray="1 4.57"/>
<line x1="491.50" y1="309.32" x2="697.5" y2="309.32" stroke="#c2c2c2" stroke-width="2.2" stroke-dasharray="1 4.57"/>
<line x1="491.50" y1="306.22" x2="697.5" y2="306.22" stroke="#c2c2c2" stroke-width="2.2" stroke-dasharray="1 4.57"/>
<line x1="491.50" y1="303.12" x2="697.5" y2="303.12" stroke="#c2c2c2" stroke-width="2.2" stroke-dasharray="1 4.57"/>
<line x1="532.10" y1="299.4" x2="532.10" y2="359.3" stroke="#e0e0e0" stroke-width="2"/>
<line x1="573.70" y1="299.4" x2="573.70" y2="359.3" stroke="#e0e0e0" stroke-width="2"/>
<line x1="615.30" y1="299.4" x2="615.30" y2="359.3" stroke="#e0e0e0" stroke-width="2"/>
<line x1="656.90" y1="299.4" x2="656.90" y2="359.3" stroke="#e0e0e0" stroke-width="2"/>
<line x1="490.5" y1="346.50" x2="698.5" y2="346.50" stroke="#e0e0e0" stroke-width="2"/>
<line x1="490.5" y1="331.01" x2="698.5" y2="331.01" stroke="#e0e0e0" stroke-width="2"/>
<line x1="490.5" y1="315.51" x2="698.5" y2="315.51" stroke="#e0e0e0" stroke-width="2"/>
<rect x="490.5" y="299.4" width="208.00" height="59.90" fill="none" stroke="#262626" stroke-width="2"/>
<line x1="490.50" y1="359.3" x2="490.50" y2="356.1" stroke="#262626" stroke-width="2"/>
<line x1="490.50" y1="299.4" x2="490.50" y2="302.59999999999997" stroke="#262626" stroke-width="2"/>
<line x1="532.10" y1="359.3" x2="532.10" y2="356.1" stroke="#262626" stroke-width="2"/>
<line x1="532.10" y1="299.4" x2="532.10" y2="302.59999999999997" stroke="#262626" stroke-width="2"/>
<line x1="573.70" y1="359.3" x2="573.70" y2="356.1" stroke="#262626" stroke-width="2"/>
<line x1="573.70" y1="299.4" x2="573.70" y2="302.59999999999997" stroke="#262626" stroke-width="2"/>
<line x1="615.30" y1="359.3" x2="615.30" y2="356.1" stroke="#262626" stroke-width="2"/>
<line x1="615.30" y1="299.4" x2="615.30" y2="302.59999999999997" stroke="#262626" stroke-width="2"/>
<line x1="656.90" y1="359.3" x2="656.90" y2="356.1" stroke="#262626" stroke-width="2"/>
<line x1="656.90" y1="299.4" x2="656.90" y2="302.59999999999997" stroke="#262626" stroke-width="2"/>
<line x1="698.50" y1="359.3" x2="698.50" y2="356.1" stroke="#262626" stroke-width="2"/>
<line x1="698.50" y1="299.4" x2="698.50" y2="302.59999999999997" stroke="#262626" stroke-width="2"/>
<line x1="490.5" y1="346.50" x2="493.7" y2="346.50" stroke="#262626" stroke-width="2"/>
<line x1="698.5" y1="346.50" x2="695.3" y2="346.50" stroke="#262626" stroke-width="2"/>
<line x1="490.5" y1="331.01" x2="493.7" y2="331.01" stroke="#262626" stroke-width="2"/>
<line x1="698.5" y1="331.01" x2="695.3" y2="331.01" stroke="#262626" stroke-width="2"/>
<line x1="490.5" y1="315.51" x2="493.7" y2="315.51" stroke="#262626" stroke-width="2"/>
<line x1="698.5" y1="315.51" x2="695.3" y2="315.51" stroke="#262626" stroke-width="2"/>
<line x1="490.5" y1="300.02" x2="493.7" y2="300.02" stroke="#262626" stroke-width="2"/>
<line x1="698.5" y1="300.02" x2="695.3" y2="300.02" stroke="#262626" stroke-width="2"/>
<g fill="none" stroke="#0072BD" stroke-width="2.1"><circle cx="522.10" cy="341.70" r="4.1"/><circle cx="524.30" cy="340.00" r="4.1"/><circle cx="527.00" cy="349.30" r="4.1"/><circle cx="528.70" cy="353.20" r="4.1"/><circle cx="531.40" cy="346.10" r="4.1"/><circle cx="533.30" cy="345.55" r="4.1"/><circle cx="535.20" cy="345.00" r="4.1"/><circle cx="537.10" cy="345.55" r="4.1"/><circle cx="539.00" cy="346.10" r="4.1"/><circle cx="540.65" cy="343.35" r="4.1"/><circle cx="542.30" cy="340.60" r="4.1"/><circle cx="544.50" cy="339.50" r="4.1"/><circle cx="546.70" cy="338.40" r="4.1"/><circle cx="549.50" cy="334.00" r="4.1"/><circle cx="552.00" cy="326.00" r="4.1"/><circle cx="553.75" cy="325.88" r="4.1"/><circle cx="555.50" cy="325.77" r="4.1"/><circle cx="557.25" cy="325.65" r="4.1"/><circle cx="559.00" cy="325.53" r="4.1"/><circle cx="560.75" cy="325.42" r="4.1"/><circle cx="562.50" cy="325.30" r="4.1"/><circle cx="564.20" cy="328.60" r="4.1"/><circle cx="565.30" cy="335.10" r="4.1"/><circle cx="566.95" cy="336.75" r="4.1"/><circle cx="568.60" cy="338.40" r="4.1"/><circle cx="570.70" cy="342.80" r="4.1"/><circle cx="571.80" cy="347.20" r="4.1"/><circle cx="574.60" cy="352.10" r="4.1"/><circle cx="576.23" cy="353.00" r="4.1"/><circle cx="577.87" cy="353.90" r="4.1"/><circle cx="579.50" cy="354.80" r="4.1"/><circle cx="581.70" cy="355.90" r="4.1"/><circle cx="583.90" cy="357.00" r="4.1"/><circle cx="585.50" cy="357.80" r="4.1"/><circle cx="587.10" cy="358.60" r="4.1"/><circle cx="589.30" cy="355.60" r="4.1"/><circle cx="591.50" cy="352.60" r="4.1"/><circle cx="592.80" cy="343.70" r="4.1"/><circle cx="595.70" cy="337.20" r="4.1"/><circle cx="597.68" cy="337.10" r="4.1"/><circle cx="599.66" cy="337.00" r="4.1"/><circle cx="601.64" cy="336.90" r="4.1"/><circle cx="603.62" cy="336.80" r="4.1"/><circle cx="605.60" cy="336.70" r="4.1"/><circle cx="608.40" cy="339.50" r="4.1"/><circle cx="610.50" cy="343.70" r="4.1"/><circle cx="613.30" cy="335.30" r="4.1"/><circle cx="615.50" cy="328.00" r="4.1"/><circle cx="617.26" cy="328.02" r="4.1"/><circle cx="619.02" cy="328.05" r="4.1"/><circle cx="620.79" cy="328.07" r="4.1"/><circle cx="622.55" cy="328.10" r="4.1"/><circle cx="624.31" cy="328.12" r="4.1"/><circle cx="626.08" cy="328.15" r="4.1"/><circle cx="627.84" cy="328.18" r="4.1"/><circle cx="629.60" cy="328.20" r="4.1"/><circle cx="631.00" cy="321.80" r="4.1"/><circle cx="632.40" cy="318.30" r="4.1"/><circle cx="635.30" cy="310.50" r="4.1"/><circle cx="637.11" cy="310.52" r="4.1"/><circle cx="638.93" cy="310.54" r="4.1"/><circle cx="640.74" cy="310.56" r="4.1"/><circle cx="642.56" cy="310.59" r="4.1"/><circle cx="644.37" cy="310.61" r="4.1"/><circle cx="646.19" cy="310.63" r="4.1"/><circle cx="648.00" cy="310.65" r="4.1"/><circle cx="649.81" cy="310.67" r="4.1"/><circle cx="651.63" cy="310.69" r="4.1"/><circle cx="653.44" cy="310.71" r="4.1"/><circle cx="655.26" cy="310.74" r="4.1"/><circle cx="657.07" cy="310.76" r="4.1"/><circle cx="658.89" cy="310.78" r="4.1"/><circle cx="660.70" cy="310.80" r="4.1"/><circle cx="662.35" cy="311.40" r="4.1"/><circle cx="664.00" cy="312.00" r="4.1"/><circle cx="666.40" cy="312.50" r="4.1"/><circle cx="667.80" cy="307.00" r="4.1"/><circle cx="669.20" cy="305.60" r="4.1"/><circle cx="671.18" cy="305.60" r="4.1"/><circle cx="673.16" cy="305.60" r="4.1"/><circle cx="675.14" cy="305.60" r="4.1"/><circle cx="677.12" cy="305.60" r="4.1"/><circle cx="679.10" cy="305.60" r="4.1"/><circle cx="681.00" cy="302.70" r="4.1"/><circle cx="682.73" cy="301.30" r="4.1"/><circle cx="684.47" cy="299.90" r="4.1"/><circle cx="686.20" cy="298.50" r="4.1"/><circle cx="689.00" cy="299.90" r="4.1"/></g>
<text transform="translate(481.10,346.50) scale(1.1,0.96)" y="6.2" text-anchor="end" font-size="17.5" fill="#262626" class="tn">3</text>
<text transform="translate(481.10,331.01) scale(1.1,0.96)" y="6.2" text-anchor="end" font-size="17.5" fill="#262626" class="tn">3.5</text>
<text transform="translate(481.10,315.51) scale(1.1,0.96)" y="6.2" text-anchor="end" font-size="17.5" fill="#262626" class="tn">4</text>
<text transform="translate(481.10,300.02) scale(1.1,0.96)" y="6.2" text-anchor="end" font-size="17.5" fill="#262626" class="tn">4.5</text>
<g class="tn" fill="#262626" transform="translate(437.70,329.10) scale(1.0143,1.0132) translate(-293.00,-299.00)"><text transform="translate(300,300) rotate(-90)" text-anchor="middle" font-size="20.6">H2OMIXRA</text></g>
<rect x="147.6" y="427.4" width="207.90" height="60.00" fill="#fff"/>
<line x1="148.60" y1="479.44" x2="354.5" y2="479.44" stroke="#c2c2c2" stroke-width="2.2" stroke-dasharray="1 4.57"/>
<line x1="148.60" y1="471.48" x2="354.5" y2="471.48" stroke="#c2c2c2" stroke-width="2.2" stroke-dasharray="1 4.57"/>
<line x1="148.60" y1="463.53" x2="354.5" y2="463.53" stroke="#c2c2c2" stroke-width="2.2" stroke-dasharray="1 4.57"/>
<line x1="148.60" y1="455.57" x2="354.5" y2="455.57" stroke="#c2c2c2" stroke-width="2.2" stroke-dasharray="1 4.57"/>
<line x1="148.60" y1="439.65" x2="354.5" y2="439.65" stroke="#c2c2c2" stroke-width="2.2" stroke-dasharray="1 4.57"/>
<line x1="148.60" y1="431.70" x2="354.5" y2="431.70" stroke="#c2c2c2" stroke-width="2.2" stroke-dasharray="1 4.57"/>
<line x1="189.18" y1="427.4" x2="189.18" y2="487.4" stroke="#e0e0e0" stroke-width="2"/>
<line x1="230.76" y1="427.4" x2="230.76" y2="487.4" stroke="#e0e0e0" stroke-width="2"/>
<line x1="272.34" y1="427.4" x2="272.34" y2="487.4" stroke="#e0e0e0" stroke-width="2"/>
<line x1="313.92" y1="427.4" x2="313.92" y2="487.4" stroke="#e0e0e0" stroke-width="2"/>
<line x1="147.6" y1="447.61" x2="355.5" y2="447.61" stroke="#e0e0e0" stroke-width="2"/>
<rect x="147.6" y="427.4" width="207.90" height="60.00" fill="none" stroke="#262626" stroke-width="2"/>
<line x1="147.60" y1="487.4" x2="147.60" y2="484.2" stroke="#262626" stroke-width="2"/>
<line x1="147.60" y1="427.4" x2="147.60" y2="430.59999999999997" stroke="#262626" stroke-width="2"/>
<line x1="189.18" y1="487.4" x2="189.18" y2="484.2" stroke="#262626" stroke-width="2"/>
<line x1="189.18" y1="427.4" x2="189.18" y2="430.59999999999997" stroke="#262626" stroke-width="2"/>
<line x1="230.76" y1="487.4" x2="230.76" y2="484.2" stroke="#262626" stroke-width="2"/>
<line x1="230.76" y1="427.4" x2="230.76" y2="430.59999999999997" stroke="#262626" stroke-width="2"/>
<line x1="272.34" y1="487.4" x2="272.34" y2="484.2" stroke="#262626" stroke-width="2"/>
<line x1="272.34" y1="427.4" x2="272.34" y2="430.59999999999997" stroke="#262626" stroke-width="2"/>
<line x1="313.92" y1="487.4" x2="313.92" y2="484.2" stroke="#262626" stroke-width="2"/>
<line x1="313.92" y1="427.4" x2="313.92" y2="430.59999999999997" stroke="#262626" stroke-width="2"/>
<line x1="355.50" y1="487.4" x2="355.50" y2="484.2" stroke="#262626" stroke-width="2"/>
<line x1="355.50" y1="427.4" x2="355.50" y2="430.59999999999997" stroke="#262626" stroke-width="2"/>
<line x1="147.6" y1="487.40" x2="150.79999999999998" y2="487.40" stroke="#262626" stroke-width="2"/>
<line x1="355.5" y1="487.40" x2="352.3" y2="487.40" stroke="#262626" stroke-width="2"/>
<line x1="147.6" y1="447.61" x2="150.79999999999998" y2="447.61" stroke="#262626" stroke-width="2"/>
<line x1="355.5" y1="447.61" x2="352.3" y2="447.61" stroke="#262626" stroke-width="2"/>
<g fill="none" stroke="#0072BD" stroke-width="2.1"><circle cx="177.90" cy="477.90" r="4.1"/><circle cx="180.00" cy="474.10" r="4.1"/><circle cx="181.60" cy="456.60" r="4.1"/><circle cx="183.20" cy="453.40" r="4.1"/><circle cx="184.80" cy="440.60" r="4.1"/><circle cx="186.90" cy="443.80" r="4.1"/><circle cx="189.00" cy="463.00" r="4.1"/><circle cx="190.60" cy="477.30" r="4.1"/><circle cx="192.00" cy="486.20" r="4.1"/><circle cx="193.50" cy="486.60" r="4.1"/><circle cx="195.00" cy="486.20" r="4.1"/><circle cx="198.10" cy="480.50" r="4.1"/><circle cx="199.10" cy="472.00" r="4.1"/><circle cx="200.70" cy="452.90" r="4.1"/><circle cx="202.30" cy="449.10" r="4.1"/><circle cx="203.90" cy="443.80" r="4.1"/><circle cx="206.00" cy="439.60" r="4.1"/><circle cx="209.00" cy="438.00" r="4.1"/><circle cx="211.13" cy="437.57" r="4.1"/><circle cx="213.27" cy="437.13" r="4.1"/><circle cx="215.40" cy="436.70" r="4.1"/><circle cx="217.35" cy="437.35" r="4.1"/><circle cx="219.30" cy="438.00" r="4.1"/><circle cx="220.90" cy="432.55" r="4.1"/><circle cx="222.50" cy="427.10" r="4.1"/><circle cx="224.75" cy="433.20" r="4.1"/><circle cx="227.00" cy="439.30" r="4.1"/><circle cx="228.60" cy="436.10" r="4.1"/><circle cx="230.20" cy="432.90" r="4.1"/><circle cx="232.45" cy="436.10" r="4.1"/><circle cx="234.70" cy="439.30" r="4.1"/><circle cx="236.62" cy="439.77" r="4.1"/><circle cx="238.55" cy="440.25" r="4.1"/><circle cx="240.47" cy="440.73" r="4.1"/><circle cx="242.40" cy="441.20" r="4.1"/><circle cx="244.35" cy="440.88" r="4.1"/><circle cx="246.30" cy="440.55" r="4.1"/><circle cx="248.25" cy="440.22" r="4.1"/><circle cx="250.20" cy="439.90" r="4.1"/><circle cx="251.40" cy="445.70" r="4.1"/><circle cx="254.00" cy="452.20" r="4.1"/><circle cx="255.93" cy="452.35" r="4.1"/><circle cx="257.85" cy="452.50" r="4.1"/><circle cx="259.77" cy="452.65" r="4.1"/><circle cx="261.70" cy="452.80" r="4.1"/><circle cx="263.40" cy="452.58" r="4.1"/><circle cx="265.10" cy="452.37" r="4.1"/><circle cx="266.80" cy="452.15" r="4.1"/><circle cx="268.50" cy="451.93" r="4.1"/><circle cx="270.20" cy="451.72" r="4.1"/><circle cx="271.90" cy="451.50" r="4.1"/><circle cx="273.90" cy="458.60" r="4.1"/><circle cx="275.10" cy="466.30" r="4.1"/><circle cx="277.10" cy="472.70" r="4.1"/><circle cx="279.60" cy="479.20" r="4.1"/><circle cx="281.25" cy="482.40" r="4.1"/><circle cx="282.90" cy="485.60" r="4.1"/><circle cx="285.03" cy="483.03" r="4.1"/><circle cx="287.17" cy="480.47" r="4.1"/><circle cx="289.30" cy="477.90" r="4.1"/><circle cx="291.23" cy="476.92" r="4.1"/><circle cx="293.15" cy="475.95" r="4.1"/><circle cx="295.07" cy="474.98" r="4.1"/><circle cx="297.00" cy="474.00" r="4.1"/><circle cx="298.93" cy="475.30" r="4.1"/><circle cx="300.85" cy="476.60" r="4.1"/><circle cx="302.77" cy="477.90" r="4.1"/><circle cx="304.70" cy="479.20" r="4.1"/><circle cx="306.65" cy="475.30" r="4.1"/><circle cx="308.60" cy="471.40" r="4.1"/><circle cx="310.73" cy="470.57" r="4.1"/><circle cx="312.87" cy="469.73" r="4.1"/><circle cx="315.00" cy="468.90" r="4.1"/><circle cx="317.13" cy="468.90" r="4.1"/><circle cx="319.27" cy="468.90" r="4.1"/><circle cx="321.40" cy="468.90" r="4.1"/><circle cx="322.70" cy="462.40" r="4.1"/><circle cx="324.00" cy="456.00" r="4.1"/><circle cx="326.60" cy="449.60" r="4.1"/><circle cx="329.20" cy="443.20" r="4.1"/><circle cx="331.10" cy="441.90" r="4.1"/><circle cx="333.00" cy="440.60" r="4.1"/><circle cx="335.17" cy="441.47" r="4.1"/><circle cx="337.33" cy="442.33" r="4.1"/><circle cx="339.50" cy="443.20" r="4.1"/><circle cx="342.00" cy="439.30" r="4.1"/><circle cx="343.30" cy="432.90" r="4.1"/><circle cx="345.20" cy="427.70" r="4.1"/></g>
<text transform="translate(138.20,487.40) scale(1.1,0.96)" y="6.2" text-anchor="end" font-size="17.5" fill="#262626" class="tn">0</text>
<text transform="translate(138.20,447.61) scale(1.1,0.96)" y="6.2" text-anchor="end" font-size="17.5" fill="#262626" class="tn">100</text>
<g class="tn" fill="#262626" transform="translate(83.45,457.35) scale(1.0042,0.9415) translate(-298.00,-300.00)"><text transform="translate(300,300) rotate(-90)" text-anchor="middle" font-size="20.6">TERR<tspan font-size="16.3" dy="9.9">M</tspan><tspan dy="-9.9">SL</tspan></text></g>
<rect x="490.5" y="427.4" width="208.00" height="60.00" fill="#fff"/>
<line x1="491.50" y1="479.90" x2="697.5" y2="479.90" stroke="#c2c2c2" stroke-width="2.2" stroke-dasharray="1 4.57"/>
<line x1="491.50" y1="472.40" x2="697.5" y2="472.40" stroke="#c2c2c2" stroke-width="2.2" stroke-dasharray="1 4.57"/>
<line x1="491.50" y1="464.90" x2="697.5" y2="464.90" stroke="#c2c2c2" stroke-width="2.2" stroke-dasharray="1 4.57"/>
<line x1="491.50" y1="449.90" x2="697.5" y2="449.90" stroke="#c2c2c2" stroke-width="2.2" stroke-dasharray="1 4.57"/>
<line x1="491.50" y1="442.40" x2="697.5" y2="442.40" stroke="#c2c2c2" stroke-width="2.2" stroke-dasharray="1 4.57"/>
<line x1="491.50" y1="434.90" x2="697.5" y2="434.90" stroke="#c2c2c2" stroke-width="2.2" stroke-dasharray="1 4.57"/>
<line x1="532.10" y1="427.4" x2="532.10" y2="487.4" stroke="#e0e0e0" stroke-width="2"/>
<line x1="573.70" y1="427.4" x2="573.70" y2="487.4" stroke="#e0e0e0" stroke-width="2"/>
<line x1="615.30" y1="427.4" x2="615.30" y2="487.4" stroke="#e0e0e0" stroke-width="2"/>
<line x1="656.90" y1="427.4" x2="656.90" y2="487.4" stroke="#e0e0e0" stroke-width="2"/>
<line x1="490.5" y1="457.40" x2="698.5" y2="457.40" stroke="#e0e0e0" stroke-width="2"/>
<rect x="490.5" y="427.4" width="208.00" height="60.00" fill="none" stroke="#262626" stroke-width="2"/>
<line x1="490.50" y1="487.4" x2="490.50" y2="484.2" stroke="#262626" stroke-width="2"/>
<line x1="490.50" y1="427.4" x2="490.50" y2="430.59999999999997" stroke="#262626" stroke-width="2"/>
<line x1="532.10" y1="487.4" x2="532.10" y2="484.2" stroke="#262626" stroke-width="2"/>
<line x1="532.10" y1="427.4" x2="532.10" y2="430.59999999999997" stroke="#262626" stroke-width="2"/>
<line x1="573.70" y1="487.4" x2="573.70" y2="484.2" stroke="#262626" stroke-width="2"/>
<line x1="573.70" y1="427.4" x2="573.70" y2="430.59999999999997" stroke="#262626" stroke-width="2"/>
<line x1="615.30" y1="487.4" x2="615.30" y2="484.2" stroke="#262626" stroke-width="2"/>
<line x1="615.30" y1="427.4" x2="615.30" y2="430.59999999999997" stroke="#262626" stroke-width="2"/>
<line x1="656.90" y1="487.4" x2="656.90" y2="484.2" stroke="#262626" stroke-width="2"/>
<line x1="656.90" y1="427.4" x2="656.90" y2="430.59999999999997" stroke="#262626" stroke-width="2"/>
<line x1="698.50" y1="487.4" x2="698.50" y2="484.2" stroke="#262626" stroke-width="2"/>
<line x1="698.50" y1="427.4" x2="698.50" y2="430.59999999999997" stroke="#262626" stroke-width="2"/>
<line x1="490.5" y1="487.40" x2="493.7" y2="487.40" stroke="#262626" stroke-width="2"/>
<line x1="698.5" y1="487.40" x2="695.3" y2="487.40" stroke="#262626" stroke-width="2"/>
<line x1="490.5" y1="457.40" x2="493.7" y2="457.40" stroke="#262626" stroke-width="2"/>
<line x1="698.5" y1="457.40" x2="695.3" y2="457.40" stroke="#262626" stroke-width="2"/>
<line x1="490.5" y1="427.40" x2="493.7" y2="427.40" stroke="#262626" stroke-width="2"/>
<line x1="698.5" y1="427.40" x2="695.3" y2="427.40" stroke="#262626" stroke-width="2"/>
<g fill="none" stroke="#0072BD" stroke-width="2.1"><circle cx="521.60" cy="468.20" r="4.1"/><circle cx="523.00" cy="472.50" r="4.1"/><circle cx="524.40" cy="477.00" r="4.1"/><circle cx="525.80" cy="481.50" r="4.1"/><circle cx="527.20" cy="485.50" r="4.1"/><circle cx="528.80" cy="487.20" r="4.1"/><circle cx="530.33" cy="487.20" r="4.1"/><circle cx="531.86" cy="487.20" r="4.1"/><circle cx="533.39" cy="487.20" r="4.1"/><circle cx="534.91" cy="487.20" r="4.1"/><circle cx="536.44" cy="487.20" r="4.1"/><circle cx="537.97" cy="487.20" r="4.1"/><circle cx="539.50" cy="487.20" r="4.1"/><circle cx="541.00" cy="486.00" r="4.1"/><circle cx="542.60" cy="483.50" r="4.1"/><circle cx="544.30" cy="470.50" r="4.1"/><circle cx="545.90" cy="457.00" r="4.1"/><circle cx="547.30" cy="444.00" r="4.1"/><circle cx="548.60" cy="441.00" r="4.1"/><circle cx="549.90" cy="438.70" r="4.1"/><circle cx="551.20" cy="436.30" r="4.1"/><circle cx="552.50" cy="434.50" r="4.1"/><circle cx="553.80" cy="438.50" r="4.1"/><circle cx="555.16" cy="443.33" r="4.1"/><circle cx="556.51" cy="448.17" r="4.1"/><circle cx="557.87" cy="453.00" r="4.1"/><circle cx="559.22" cy="457.83" r="4.1"/><circle cx="560.58" cy="462.67" r="4.1"/><circle cx="561.93" cy="467.50" r="4.1"/><circle cx="563.29" cy="472.33" r="4.1"/><circle cx="564.64" cy="477.17" r="4.1"/><circle cx="566.00" cy="482.00" r="4.1"/><circle cx="567.40" cy="487.20" r="4.1"/><circle cx="569.02" cy="487.20" r="4.1"/><circle cx="570.64" cy="487.20" r="4.1"/><circle cx="572.27" cy="487.20" r="4.1"/><circle cx="573.89" cy="487.20" r="4.1"/><circle cx="575.51" cy="487.20" r="4.1"/><circle cx="577.13" cy="487.20" r="4.1"/><circle cx="578.76" cy="487.20" r="4.1"/><circle cx="580.38" cy="487.20" r="4.1"/><circle cx="582.00" cy="487.20" r="4.1"/><circle cx="583.50" cy="483.50" r="4.1"/><circle cx="585.70" cy="472.10" r="4.1"/><circle cx="587.10" cy="457.90" r="4.1"/><circle cx="588.50" cy="445.00" r="4.1"/><circle cx="590.00" cy="441.90" r="4.1"/><circle cx="591.50" cy="439.70" r="4.1"/><circle cx="593.00" cy="437.80" r="4.1"/><circle cx="594.60" cy="436.70" r="4.1"/><circle cx="596.20" cy="444.00" r="4.1"/><circle cx="597.50" cy="450.00" r="4.1"/><circle cx="598.50" cy="454.50" r="4.1"/><circle cx="599.80" cy="459.50" r="4.1"/><circle cx="601.30" cy="464.00" r="4.1"/><circle cx="602.80" cy="468.50" r="4.1"/><circle cx="604.30" cy="473.00" r="4.1"/><circle cx="605.80" cy="477.50" r="4.1"/><circle cx="607.30" cy="482.00" r="4.1"/><circle cx="608.70" cy="485.50" r="4.1"/><circle cx="610.00" cy="487.20" r="4.1"/><circle cx="611.67" cy="487.20" r="4.1"/><circle cx="613.33" cy="487.20" r="4.1"/><circle cx="615.00" cy="487.20" r="4.1"/><circle cx="616.67" cy="487.20" r="4.1"/><circle cx="618.33" cy="487.20" r="4.1"/><circle cx="620.00" cy="487.20" r="4.1"/><circle cx="621.67" cy="487.20" r="4.1"/><circle cx="623.33" cy="487.20" r="4.1"/><circle cx="625.00" cy="487.20" r="4.1"/><circle cx="626.50" cy="484.00" r="4.1"/><circle cx="628.20" cy="473.20" r="4.1"/><circle cx="629.20" cy="463.00" r="4.1"/><circle cx="630.80" cy="452.50" r="4.1"/><circle cx="632.20" cy="451.50" r="4.1"/><circle cx="633.60" cy="450.50" r="4.1"/><circle cx="635.00" cy="449.50" r="4.1"/><circle cx="636.40" cy="448.50" r="4.1"/><circle cx="637.60" cy="448.00" r="4.1"/><circle cx="639.00" cy="455.00" r="4.1"/><circle cx="640.39" cy="458.22" r="4.1"/><circle cx="641.78" cy="461.44" r="4.1"/><circle cx="643.17" cy="464.67" r="4.1"/><circle cx="644.56" cy="467.89" r="4.1"/><circle cx="645.94" cy="471.11" r="4.1"/><circle cx="647.33" cy="474.33" r="4.1"/><circle cx="648.72" cy="477.56" r="4.1"/><circle cx="650.11" cy="480.78" r="4.1"/><circle cx="651.50" cy="484.00" r="4.1"/><circle cx="653.00" cy="487.20" r="4.1"/><circle cx="654.62" cy="487.20" r="4.1"/><circle cx="656.25" cy="487.20" r="4.1"/><circle cx="657.88" cy="487.20" r="4.1"/><circle cx="659.50" cy="487.20" r="4.1"/><circle cx="661.12" cy="487.20" r="4.1"/><circle cx="662.75" cy="487.20" r="4.1"/><circle cx="664.38" cy="487.20" r="4.1"/><circle cx="666.00" cy="487.20" r="4.1"/><circle cx="667.50" cy="484.00" r="4.1"/><circle cx="669.40" cy="472.20" r="4.1"/><circle cx="670.60" cy="460.80" r="4.1"/><circle cx="672.00" cy="450.00" r="4.1"/><circle cx="673.50" cy="447.00" r="4.1"/><circle cx="675.00" cy="443.90" r="4.1"/><circle cx="676.60" cy="440.80" r="4.1"/><circle cx="678.10" cy="437.70" r="4.1"/><circle cx="680.20" cy="444.40" r="4.1"/><circle cx="681.60" cy="449.00" r="4.1"/><circle cx="682.80" cy="453.50" r="4.1"/><circle cx="684.00" cy="457.50" r="4.1"/><circle cx="685.20" cy="461.00" r="4.1"/><circle cx="686.40" cy="464.50" r="4.1"/><circle cx="687.50" cy="468.00" r="4.1"/><circle cx="688.40" cy="471.60" r="4.1"/></g>
<text transform="translate(481.10,487.40) scale(1.1,0.96)" y="6.2" text-anchor="end" font-size="17.5" fill="#262626" class="tn">0</text>
<text transform="translate(481.10,457.40) scale(1.1,0.96)" y="6.2" text-anchor="end" font-size="17.5" fill="#262626" class="tn">200</text>
<text transform="translate(481.10,427.40) scale(1.1,0.96)" y="6.2" text-anchor="end" font-size="17.5" fill="#262626" class="tn">400</text>
<g class="tn" fill="#262626" transform="translate(395.85,456.80) scale(0.9625,1.0066) translate(-298.00,-299.50)"><text transform="translate(300,300) rotate(-90)" text-anchor="middle" font-size="20.6">SUN<tspan font-size="16.3" dy="9.9">F</tspan><tspan dy="-9.9">LUX</tspan></text></g>
<g fill="#000" transform="translate(251.25,26.20) scale(1.1259,0.9895) translate(-251.00,-26.50)"><text x="251" y="32" text-anchor="middle" font-size="20" font-weight="bold">Figure 2 medium</text></g>
<text transform="translate(161.23,509.99) scale(1.1657) rotate(-45)" text-anchor="end" font-size="17.5" fill="#262626" class="tn">09/29</text>
<text transform="translate(202.81,509.99) scale(1.1657) rotate(-45)" text-anchor="end" font-size="17.5" fill="#262626" class="tn">09/30</text>
<text transform="translate(244.39,509.99) scale(1.1657) rotate(-45)" text-anchor="end" font-size="17.5" fill="#262626" class="tn">10/01</text>
<text transform="translate(285.97,509.99) scale(1.1657) rotate(-45)" text-anchor="end" font-size="17.5" fill="#262626" class="tn">10/02</text>
<text transform="translate(327.55,509.99) scale(1.1657) rotate(-45)" text-anchor="end" font-size="17.5" fill="#262626" class="tn">10/03</text>
<text transform="translate(369.13,509.99) scale(1.1657) rotate(-45)" text-anchor="end" font-size="17.5" fill="#262626" class="tn">10/04</text>
<g transform="translate(0.00,0)"><g class="tn" fill="#262626" transform="translate(250.45,568.10) scale(1.1023,0.9867) translate(-300.00,-292.50)"><text x="300" y="300" text-anchor="middle" font-size="20.6">Time</text></g></g>
<text transform="translate(504.13,509.99) scale(1.1657) rotate(-45)" text-anchor="end" font-size="17.5" fill="#262626" class="tn">09/29</text>
<text transform="translate(545.73,509.99) scale(1.1657) rotate(-45)" text-anchor="end" font-size="17.5" fill="#262626" class="tn">09/30</text>
<text transform="translate(587.33,509.99) scale(1.1657) rotate(-45)" text-anchor="end" font-size="17.5" fill="#262626" class="tn">10/01</text>
<text transform="translate(628.93,509.99) scale(1.1657) rotate(-45)" text-anchor="end" font-size="17.5" fill="#262626" class="tn">10/02</text>
<text transform="translate(670.53,509.99) scale(1.1657) rotate(-45)" text-anchor="end" font-size="17.5" fill="#262626" class="tn">10/03</text>
<text transform="translate(712.13,509.99) scale(1.1657) rotate(-45)" text-anchor="end" font-size="17.5" fill="#262626" class="tn">10/04</text>
<g transform="translate(342.95,0)"><g class="tn" fill="#262626" transform="translate(250.45,568.10) scale(1.1023,0.9867) translate(-300.00,-292.50)"><text x="300" y="300" text-anchor="middle" font-size="20.6">Time</text></g></g>
</svg>
</body></html>
